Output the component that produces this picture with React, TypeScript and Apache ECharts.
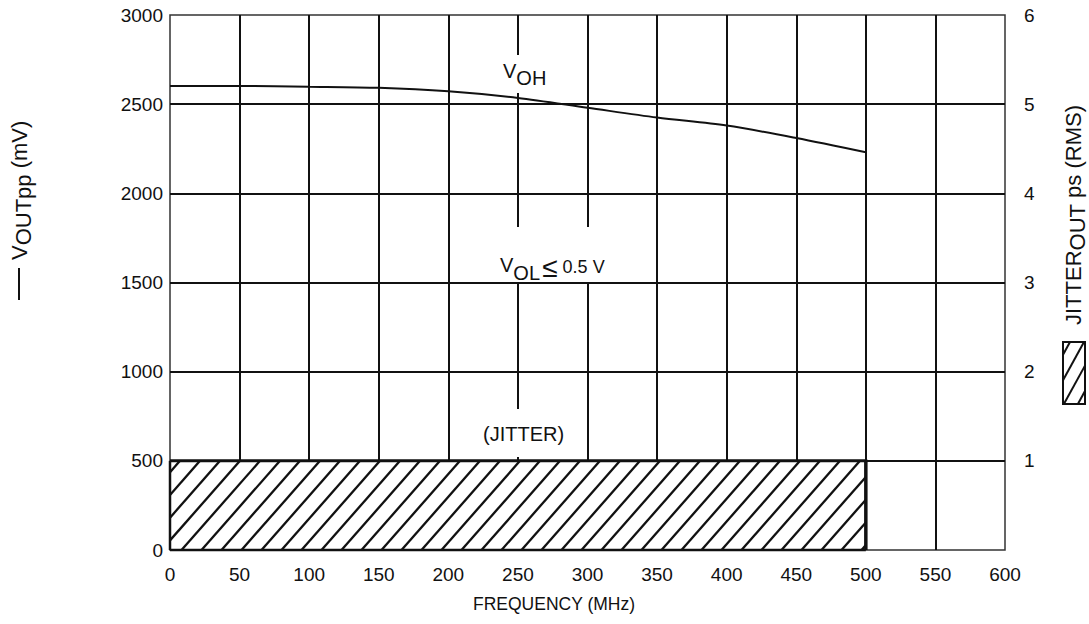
import React, { useEffect, useRef } from "react";
import * as echarts from "echarts";

// ---------- data ----------
const freqMHz = [0, 50, 100, 150, 200, 250, 300, 350, 400, 450, 500];
const vohMv = [2602, 2602, 2598, 2592, 2572, 2535, 2480, 2425, 2380, 2310, 2230];
// jitter band: [fromMHz, toMHz, ps RMS]
const jitterBand = [[0, 500, 1]];
const xTicks = [0, 600, 50];
const leftTicks = [0, 3000, 500];
const rightTicks = [0, 6, 1];

const FONT = '"Liberation Sans", Arial, Helvetica, sans-serif';
const FS = 19;
const INK = "#111";

function measure(t: string, size: number) {
  const c = document.createElement("canvas").getContext("2d")!;
  c.font = `${size}px "Liberation Sans"`;
  return c.measureText(t).width;
}

type Part = { t: string; sub?: boolean; size?: number; dy?: number };
function subText(parts: Part[], x: number, y: number, size: number, shift: number) {
  const els: any[] = [];
  let cx = x;
  parts.forEach((p) => {
    const s = p.size || size;
    els.push({
      type: "text",
      x: cx,
      y: (p.sub ? y + shift : y) + (p.dy || 0),
      style: {
        text: p.t,
        fontSize: s,
        fontFamily: FONT,
        fill: INK,
        align: "left",
        verticalAlign: "middle",
      },
      z: 20,
    });
    cx += measure(p.t, s);
  });
  return { els, width: cx - x };
}

function hatchLines(left: number, top: number, right: number, bottom: number, spacing: number, slope: number, width: number) {
  const h = bottom - top;
  const out: any[] = [];
  for (let k = left - h * slope + spacing * 0.5; k < right; k += spacing) {
    let x1 = k, y1 = bottom;
    let x2 = k + h * slope, y2 = top;
    if (x1 < left) {
      y1 = bottom - (left - k) / slope;
      x1 = left;
    }
    if (x2 > right) {
      y2 = bottom - (right - k) / slope;
      x2 = right;
    }
    if (x2 <= x1) continue;
    out.push({
      type: "line",
      shape: { x1, y1, x2, y2 },
      style: { stroke: INK, lineWidth: width },
    });
  }
  return out;
}

export default function App() {
  const ref = useRef<HTMLDivElement>(null);
  useEffect(() => {
    if (!ref.current) return;
    const chart = echarts.init(ref.current, undefined, { renderer: "svg" });

    const graphics: any[] = [];
    // VOH label
    {
      const r = subText([{ t: "V" }, { t: "OH", sub: true }], 503, 71, 20, 7);
      graphics.push({ type: "rect", shape: { x: 499, y: 55, width: r.width + 8, height: 38 }, style: { fill: "#fff" }, z: 15 });
      graphics.push(...r.els);
    }
    // VOL label
    {
      const r = subText(
        [{ t: "V" }, { t: "OL", sub: true }, { t: " ", size: 8 }, { t: "\u2264", size: 28, dy: 2 }, { t: " 0.5 V", size: 18, dy: 2 }],
        500,
        265,
        20,
        8
      );
      graphics.push({ type: "rect", shape: { x: 496, y: 227, width: r.width + 8, height: 55 }, style: { fill: "#fff" }, z: 15 });
      graphics.push(...r.els);
    }
    // JITTER label
    {
      const r = subText([{ t: "(JITTER)" }], 483, 434, 20, 0);
      graphics.push({ type: "rect", shape: { x: 479, y: 409, width: r.width + 8, height: 48 }, style: { fill: "#fff" }, z: 15 });
      graphics.push(...r.els);
    }
    // x-axis name
    graphics.push({
      type: "text",
      x: 554,
      y: 604,
      style: { text: "FREQUENCY (MHz)", fontSize: 17.5, fontFamily: FONT, fill: INK, align: "center", verticalAlign: "middle" },
    });
    // left axis name (rotated), with line key
    {
      const r = subText([{ t: "V" }, { t: "OUTpp", sub: true }, { t: " (mV)" }], 40, 0, 22, 4);
      graphics.push({
        type: "group",
        x: 19,
        y: 300,
        rotation: Math.PI / 2,
        children: [
          { type: "line", shape: { x1: 0, y1: 0, x2: 32, y2: 0 }, style: { stroke: INK, lineWidth: 2 } },
          ...r.els,
        ],
      });
    }
    // right axis name (rotated), with hatch key
    {
      const r = subText([{ t: "JITTER" }, { t: "OUT", sub: true }, { t: " ps (RMS)" }], 0, 0, 22, 4);
      graphics.push({
        type: "group",
        x: 1073,
        y: 325,
        rotation: Math.PI / 2,
        children: r.els,
      });
      const bx = 1063, by = 342, bw = 22, bh = 62;
      graphics.push({
        type: "group",
        children: [
          { type: "rect", shape: { x: bx, y: by, width: bw, height: bh }, style: { fill: "#fff", stroke: INK, lineWidth: 2 } },
          ...hatchLines(bx, by, bx + bw, by + bh, 14, 0.55, 2),
        ],
      });
    }

    const option: any = {
      animation: false,
      backgroundColor: "#fff",
      textStyle: { fontFamily: FONT },
      grid: {
        left: 170,
        right: 84,
        top: 15,
        bottom: 74,
        show: true,
        borderColor: "#333",
        borderWidth: 1.5,
        backgroundColor: "transparent",
      },
      xAxis: {
        type: "value",
        min: xTicks[0],
        max: xTicks[1],
        interval: xTicks[2],
        axisLine: { show: false },
        axisTick: { show: false },
        axisLabel: { fontSize: FS, color: INK, margin: 15, fontFamily: FONT, formatter: (v: number) => String(v) },
        splitLine: { show: true, showMinLine: false, showMaxLine: false, lineStyle: { color: INK, width: 2 } },
      },
      yAxis: [
        {
          type: "value",
          min: leftTicks[0],
          max: leftTicks[1],
          interval: leftTicks[2],
          axisLine: { show: false },
          axisTick: { show: false },
          axisLabel: { fontSize: FS, color: INK, margin: 7, fontFamily: FONT, formatter: (v: number) => String(v) },
          splitLine: { show: true, showMinLine: false, showMaxLine: false, lineStyle: { color: INK, width: 2 } },
        },
        {
          type: "value",
          position: "right",
          min: rightTicks[0],
          max: rightTicks[1],
          interval: rightTicks[2],
          axisLine: { show: false },
          axisTick: { show: false },
          axisLabel: {
            fontSize: FS,
            color: INK,
            margin: 19,
            fontFamily: FONT,
            formatter: (v: number) => (v === 0 ? "" : String(v)),
          },
          splitLine: { show: false },
        },
      ],
      series: [
        {
          type: "custom",
          xAxisIndex: 0,
          yAxisIndex: 1,
          encode: { x: [0, 1], y: 2 },
          data: jitterBand,
          z: 5,
          renderItem: (params: any, api: any) => {
            const p0 = api.coord([api.value(0), 0]);
            const p1 = api.coord([api.value(1), api.value(2)]);
            const left = p0[0], bottom = p0[1], right = p1[0], top = p1[1];
            return {
              type: "group",
              children: [
                { type: "rect", shape: { x: left, y: top, width: right - left, height: bottom - top }, style: { fill: "#fff" } },
                ...hatchLines(left, top, right, bottom, 20, 0.88, 2.3),
                { type: "line", shape: { x1: left, y1: top, x2: right + 1.5, y2: top }, style: { stroke: INK, lineWidth: 3 } },
                { type: "line", shape: { x1: right, y1: top, x2: right, y2: bottom }, style: { stroke: INK, lineWidth: 3.5 } },
                { type: "line", shape: { x1: left, y1: top, x2: left, y2: bottom }, style: { stroke: INK, lineWidth: 2.5 } },
                { type: "line", shape: { x1: left, y1: bottom, x2: right, y2: bottom }, style: { stroke: INK, lineWidth: 2.5 } },
              ],
            };
          },
        },
        {
          type: "line",
          xAxisIndex: 0,
          yAxisIndex: 0,
          data: freqMHz.map((f, i) => [f, vohMv[i]]),
          smooth: 0.3,
          showSymbol: false,
          symbol: "none",
          lineStyle: { color: INK, width: 2 },
          z: 6,
        },
      ],
      graphic: graphics,
    };
    chart.setOption(option);
    return () => chart.dispose();
  }, []);
  return <div ref={ref} style={{ position: "fixed", left: 0, top: 0, width: 1089, height: 624 }} />;
}
